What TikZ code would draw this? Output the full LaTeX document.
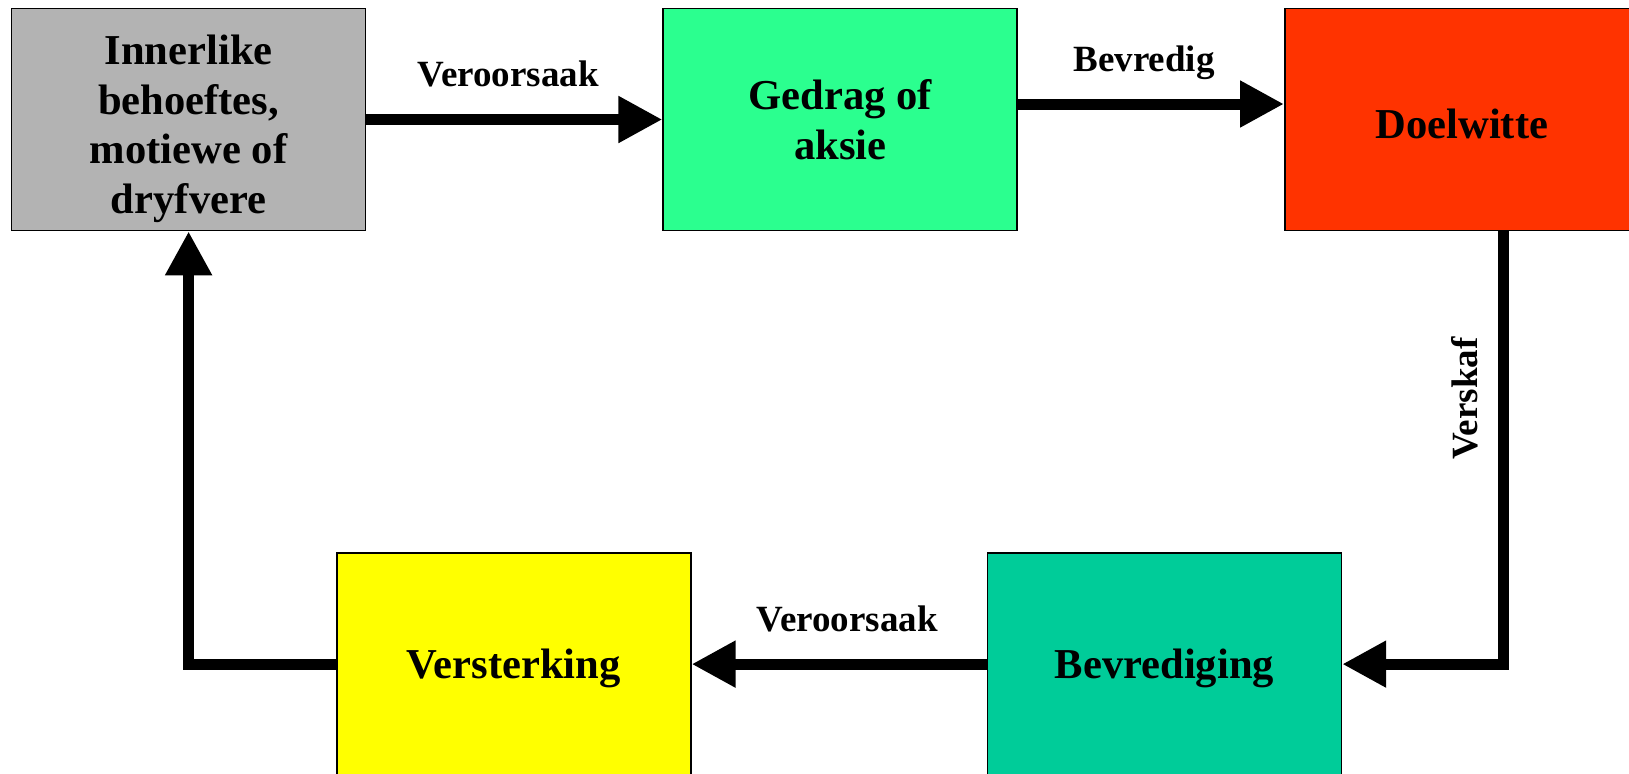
\documentclass[tikz,border=0pt]{standalone}
\usepackage{fontspec}
\setmainfont{Liberation Serif}
\usetikzlibrary{positioning, arrows.meta}

\definecolor{needsgray}{HTML}{B3B3B3}
\definecolor{actiongreen}{HTML}{2BFF8F}
\definecolor{goalred}{HTML}{FF3300}
\definecolor{reinfyellow}{HTML}{FFFF00}
\definecolor{satisteal}{HTML}{00CC99}

\begin{document}
\begin{tikzpicture}
    [
      x = 0.5pt, y = -0.5pt,
      BOX/.style={rectangle, draw=black, line width = 0.8pt, minimum width = 177pt, minimum height = 111pt, inner sep = 0pt, align = center, font = \fontsize{21.3}{24.9}\selectfont\bfseries, execute at begin node = \rule{0pt}{19.5pt}},
      ARROW/.style={-{Triangle[length = 22pt, width = 22pt]}, line width = 5.5pt, black},
      LABEL/.style={anchor = base, font = \fontsize{18.5}{22}\selectfont\bfseries},
    ]
    \useasboundingbox (0,0) rectangle (1629,773);
    \clip (0,0) rectangle (1629,773);

    \node[BOX, fill=needsgray] (needs) at (188.6,119.5) {\rule{0pt}{24pt}Innerlike \\ behoeftes, \\ motiewe of \\ dryfvere};
    \node[BOX, fill=actiongreen] (behaviour) [right = 148pt of needs] {Gedrag of \\ aksie};
    \node[BOX, fill=goalred] (goals) [right = 133pt of behaviour] {Doelwitte};
    \node[BOX, fill=reinfyellow] (reinforce) [below = 160.5pt of needs, xshift = 162.6pt] {Versterking};
    \node[BOX, fill=satisteal] (satisfy) [right = 147.5pt of reinforce] {Bevrediging};

    \draw[ARROW] (needs) to node[LABEL, yshift = 16.5pt, xshift = -3pt] {Veroorsaak} (behaviour);
    \draw[ARROW] ([yshift = 7.75pt]behaviour.east) to node[LABEL, yshift = 16.5pt, xshift = -3.5pt] {Bevredig} ([yshift = 7.75pt]goals.west);
    \draw[ARROW] ([xshift = 20.8pt]goals.south) |- node[LABEL, pos = 0.193, rotate = 90, yshift = 13pt] {Verskaf} (satisfy.east);
    \draw[ARROW] (satisfy) to node[LABEL, yshift = 16.5pt, xshift = 4pt] {Veroorsaak} (reinforce);
    \draw[ARROW] (reinforce.west) -| (needs.south);

  \end{tikzpicture}
\end{document}
